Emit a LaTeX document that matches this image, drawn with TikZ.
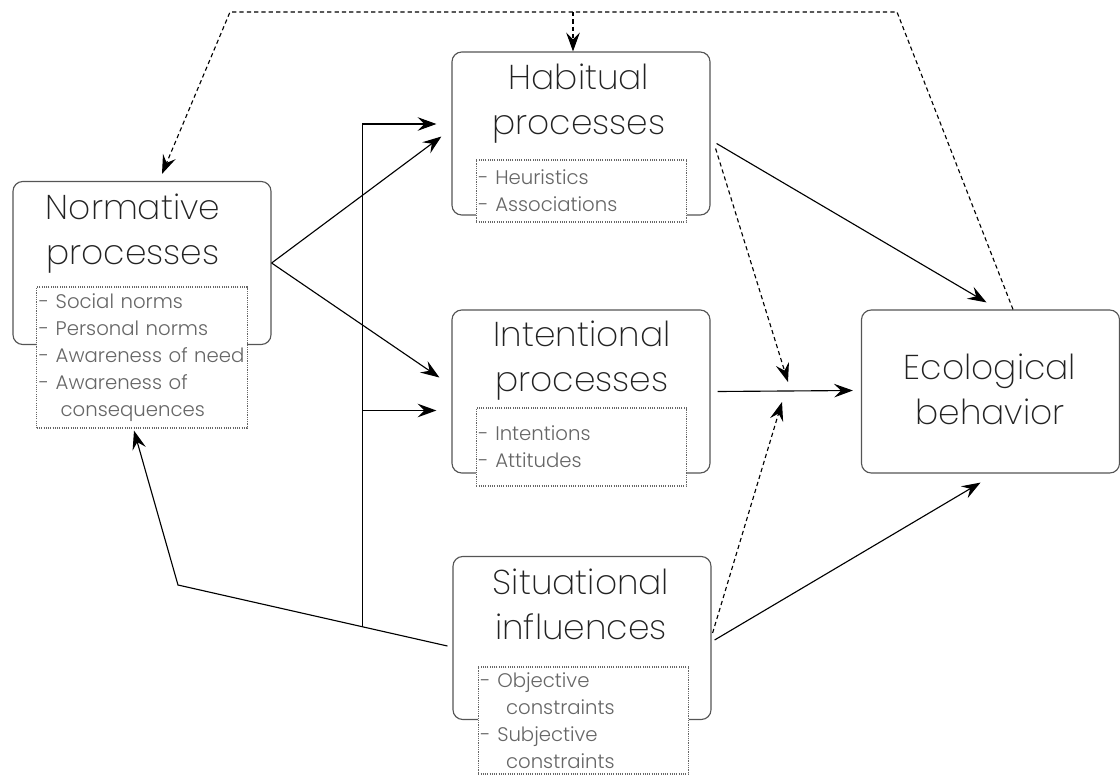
\documentclass[tikz,border=0pt]{standalone}
\usepackage{fontspec}
\setmainfont{Poppins}[UprightFont=* Light]
\newfontfamily\thinfont{Poppins}[UprightFont=* ExtraLight]
\usetikzlibrary{arrows.meta, calc}
\definecolor{cline}{HTML}{555555}
\definecolor{ctext}{HTML}{222222}
\definecolor{clist}{HTML}{666666}
\tikzset{
  every picture/.style={x=0.025cm, y=-0.025cm, line width=0.8pt},
  procbox/.style={draw=cline, rounded corners=7pt, minimum width=6.45cm, minimum height=4.075cm, inner sep=0pt},
  title/.style={font=\thinfont\fontsize{24.5}{32}\selectfont, text=ctext, align=center, inner sep=0pt},
  list/.style={draw=clist, dash pattern=on 0.8pt off 0.8pt, fill=white, align=left, text=clist,
    font=\fontsize{14}{19.2}\selectfont, text width=5.15cm, inner xsep=1.5pt, inner ysep=0pt},
  arrow/.style={-{Stealth[length=4.7mm, width=3.4mm, inset=1.7mm]}},
  dasharrow/.style={arrow, dash pattern=on 3pt off 2.2pt},
}

\begin{document}
\begin{tikzpicture}
  \useasboundingbox (0,0) rectangle (1120,776);
  % boxes
  \foreach \n/\x/\y in {norm/142/263, hab/581/133.5, int/581/391.5, sit/582/638, eco/990.5/391.5} {
    \node[procbox] (\n) at (\x,\y) {};
  }
  \node[title] (normT) at (133,234) {Normative\\processes};
  \node[title] (habT) at (579,104) {Habitual\\processes};
  \node[title] (intT) at (582,361) {Intentional\\processes};
  \node[title] (sitT) at (581,604) {Situational\\influences};
  \node[title] (ecoT) at (990,389) {Ecological\\behavior};
  % lists
  \node[list, minimum height=3.525cm] (normL) at (142,357.5)
    {- Social norms\\- Personal norms\\- Awareness of need\\- Awareness of\\\hspace*{1.1em}consequences};
  \node[list, minimum height=1.55cm] (habL) at (581.5,191) {- Heuristics\\- Associations};
  \node[list, minimum height=1.95cm] (intL) at (581.5,447) {- Intentions\\- Attitudes};
  \node[list, minimum height=2.675cm] (sitL) at (583.5,720.5)
    {- Objective\\\hspace*{1.3em}constraints\\- Subjective\\\hspace*{1.3em}constraints};
  % helper points
  \coordinate (bend) at (178,585);
  \coordinate (sitW) at ([shift={(-5,8)}]sit.west);
  \coordinate (jn) at ($(sitW)!0.316!(bend)$);
  \coordinate (habIn) at ([shift={(-15,-9.5)}]hab.west);
  \coordinate (intIn) at ([shift={(-15,19)}]int.west);
  \coordinate (mid) at (785,391);
  \coordinate (topL) at (230,12);
  \coordinate (topR) at (897,12);
  \coordinate (habTop) at ([shift={(-8,0)}]hab.north);
  % connectors
  \draw[arrow] (norm.east) -- ([shift={(-10,3)}]hab.west);
  \draw[arrow] (norm.east) -- ([shift={(-12,-14)}]int.west);
  \draw[arrow] (sitW) -- (bend) -- ([shift={(-8,2)}]normL.south);
  \draw[arrow] (jn) |- (habIn);
  \draw[arrow] (jn |- intIn) -- (intIn);
  \draw[arrow] ([shift={(6,10)}]hab.east) -- ([shift={(-4,-7)}]eco.north);
  \draw[arrow] ([shift={(7,0)}]int.east) -- ([shift={(-8,-1)}]eco.west);
  \draw[dasharrow] ([shift={(5,15)}]hab.east) -- ([shift={(3,-9)}]mid);
  \draw[dasharrow] ([shift={(1,-5)}]sit.east) -- ([shift={(-3,11)}]mid);
  \draw[arrow] ([shift={(3,2)}]sit.east) -- ([shift={(-10,9)}]eco.south);
  \draw[dasharrow] ([shift={(22.5,0)}]eco.north) -- (topR) -- (topL) -- ([shift={(20,-7)}]norm.north);
  \draw[dasharrow] (habTop |- topL) -- (habTop);
\end{tikzpicture}
\end{document}
